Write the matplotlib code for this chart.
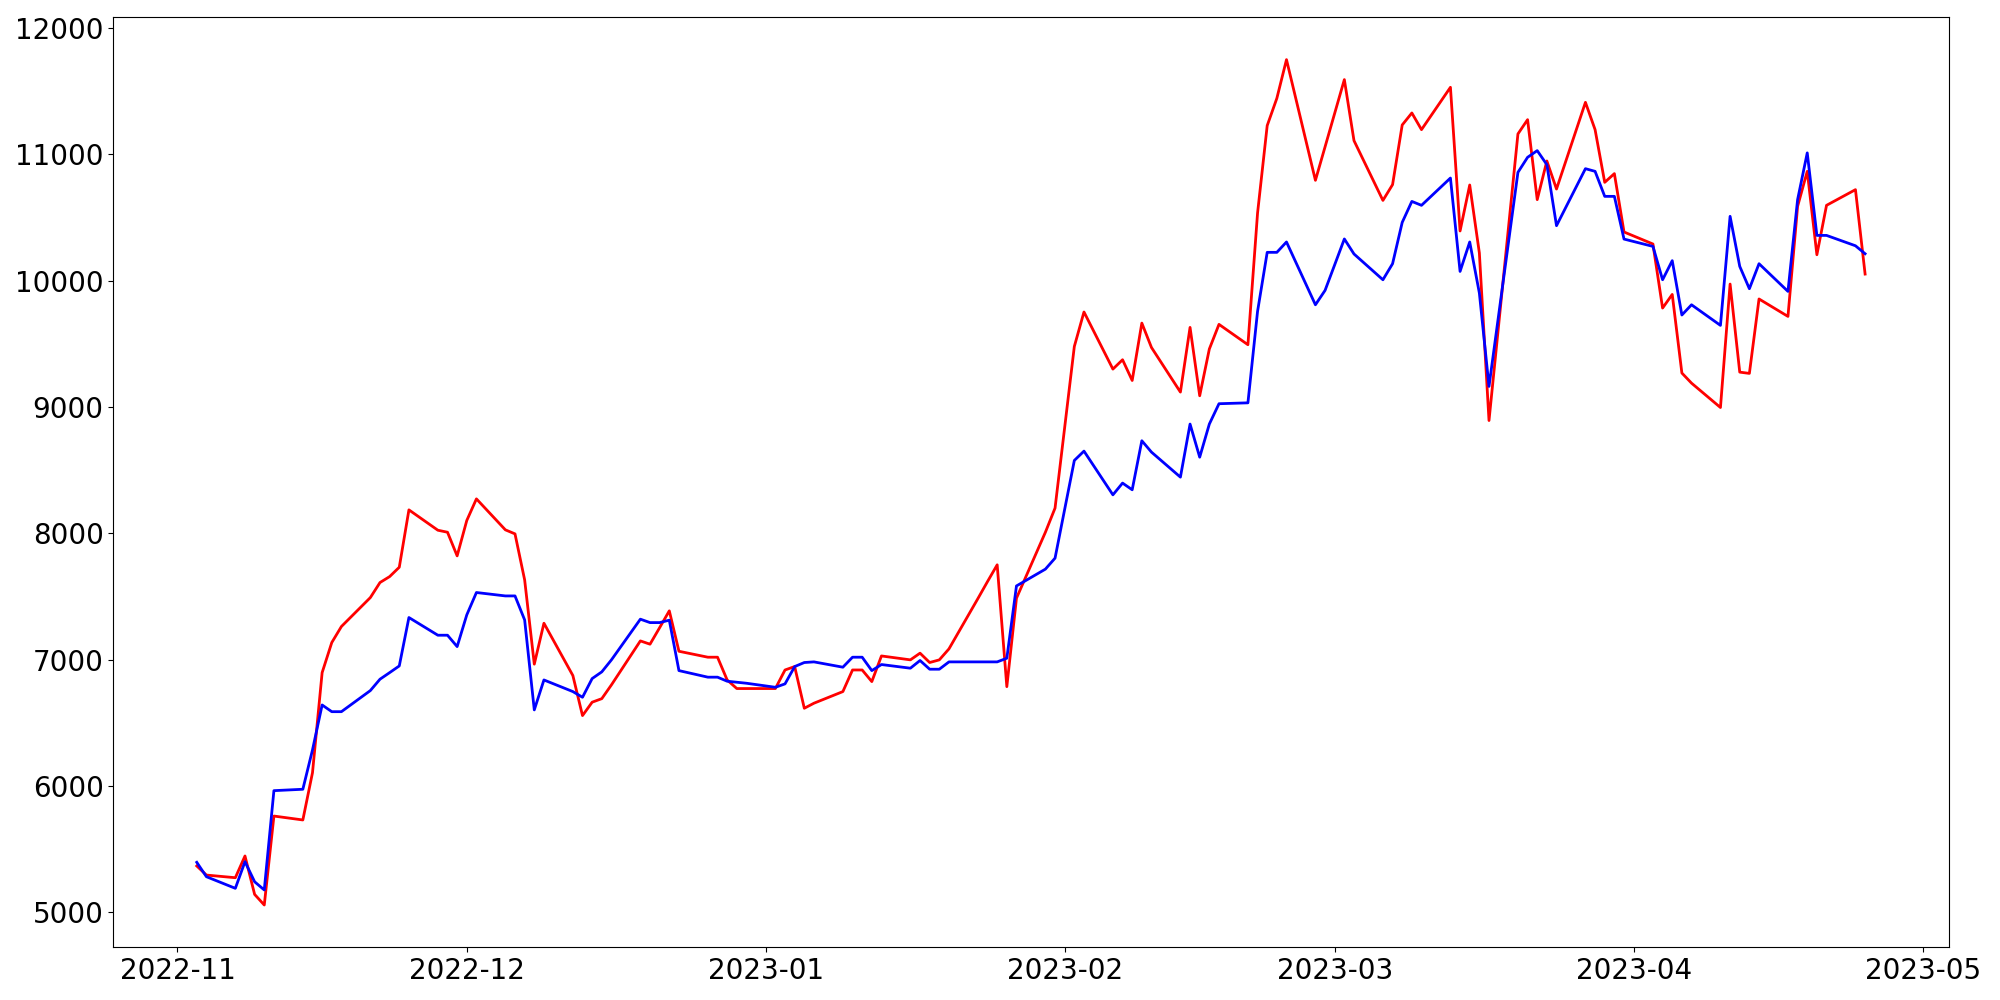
import pandas as pd
from matplotlib import pyplot as plt

# business days, 2022-11-03 .. 2023-04-25
dates = pd.bdate_range('2022-11-03', '2023-04-25')

red_values = [
    # Nov
    5367, 5295, 5274, 5446, 5142, 5058, 5762, 5731, 6105, 6897,
    7135, 7262, 7491, 7610, 7657, 7731, 8185, 8024, 8008, 7821,
    # Dec
    8101, 8272, 8027, 7995, 7631, 6964, 7288, 6874, 6557, 6663,
    6691, 6800, 7148, 7122, 7253, 7386, 7066, 7019, 7019, 6839,
    6771, 6771,
    # Jan
    6771, 6918, 6945, 6615, 6655, 6747, 6918, 6918, 6826, 7029,
    6998, 7051, 6977, 6998, 7085, 7483, 7618, 7750, 6786, 7486,
    8008, 8199,
    # Feb
    8838, 9478, 9751, 9299, 9373, 9209, 9663, 9470, 9117, 9629,
    9088, 9458, 9653, 9492, 10534, 11226, 11442, 11748, 10793, 11058,
    # Mar
    11324, 11590, 11107, 10634, 10759, 11231, 11326, 11194, 11529, 10392,
    10756, 10218, 8892, 11160, 11273, 10640, 10946, 10724, 11410, 11194,
    10777, 10846, 10384,
    # Apr
    10289, 9782, 9890, 9268, 9188, 8995, 9972, 9275, 9265, 9854,
    9716, 10587, 10864, 10204, 10595, 10719, 10051,
]

blue_values = [
    # Nov
    5396, 5282, 5190, 5401, 5242, 5177, 5963, 5974, 6285, 6641,
    6588, 6588, 6755, 6845, 6897, 6950, 7333, 7193, 7193, 7103,
    # Dec
    7354, 7531, 7504, 7504, 7314, 6602, 6839, 6747, 6702, 6850,
    6903, 6998, 7320, 7293, 7293, 7312, 6913, 6861, 6861, 6829,
    6821, 6813,
    # Jan
    6781, 6808, 6945, 6977, 6982, 6940, 7019, 7019, 6913, 6961,
    6932, 6993, 6924, 6924, 6982, 6982, 6982, 6982, 7011, 7583,
    7716, 7803,
    # Feb
    8190, 8576, 8650, 8304, 8397, 8344, 8732, 8642, 8444, 8864,
    8602, 8864, 9025, 9032, 9756, 10223, 10223, 10305, 9808, 9922,
    # Mar
    10125, 10329, 10210, 10006, 10133, 10460, 10626, 10595, 10811, 10072,
    10305, 9901, 9162, 10856, 10975, 11028, 10917, 10434, 10885, 10864,
    10666, 10666, 10328,
    # Apr
    10270, 10006, 10157, 9727, 9808, 9645, 10508, 10112, 9935, 10133,
    9914, 10640, 11010, 10357, 10357, 10275, 10212,
]

fig, ax = plt.subplots(figsize=(20, 10))
ax.plot(dates, red_values, color='red', linewidth=2)
ax.plot(dates, blue_values, color='blue', linewidth=2)
ax.tick_params(labelsize=20)

plt.tight_layout()
plt.savefig('out.png', dpi=100)
